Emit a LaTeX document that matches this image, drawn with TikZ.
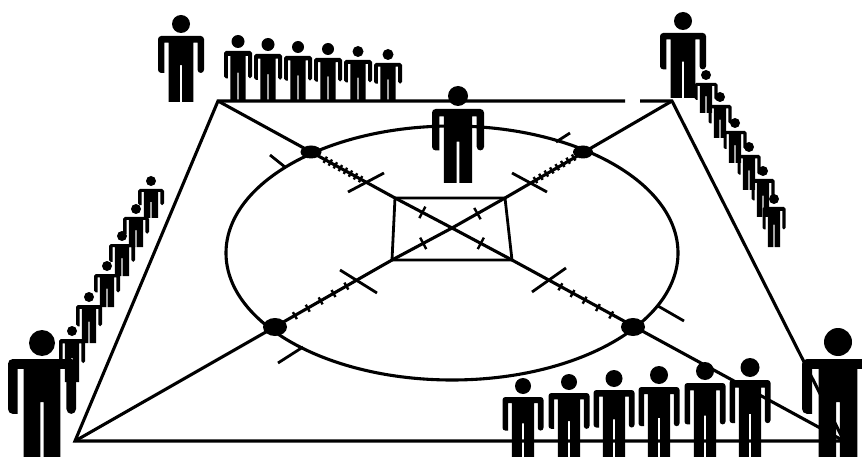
\documentclass[tikz,border=0pt]{standalone}
\usetikzlibrary{calc,shapes.geometric}
\tikzset{
  court/.style={line width=3.1pt,black},
  crossbar/.style={line width=2.8pt,black},
  hatchmark/.style={line width=2.4pt,black},
  spot/.style={ellipse,fill=black,inner sep=0pt},
}
\newcommand{\person}[5]{
  \pgfmathsetmacro{\shoulder}{#2+2*#5+3}
  \pgfmathsetmacro{\bodylen}{#3-\shoulder}
  \pgfmathsetmacro{\bend}{0.14*#4}
  \fill (#1,#2+#5) circle[radius=#5];
  \begin{scope}[shift={(#1,\shoulder)},xscale=#4,yscale=\bodylen]
    \fill[rounded corners=\bend pt] (-1,0.3)--(-1,0)--(1,0)--(1,0.56)--(0.72,0.56)
      [sharp corners]--(0.72,0.1)--(0.54,0.1)--(0.54,1)--(0.05,1)--(0.05,0.44)
      --(-0.05,0.44)--(-0.05,1)--(-0.54,1)--(-0.54,0.1)--(-0.72,0.1)--(-0.72,0.56)
      [rounded corners=\bend pt]--(-1,0.56)--cycle;
  \end{scope}
}
\newcommand{\hatchrun}[4]{
  \foreach \pos in {#4}
    \draw[hatchmark] ($(#1)!\pos!(#2)!#3!90:(#2)$)--($(#1)!\pos!(#2)!#3!-90:(#2)$);
}
\begin{document}
\begin{tikzpicture}[x=1pt,y=-1pt]
  \useasboundingbox (0,0) rectangle (862,457);
  \clip (0,0) rectangle (862,457);
  \coordinate (tl) at (218,101);
  \coordinate (tr) at (672,101);
  \coordinate (br) at (844,441);
  \coordinate (bl) at (75,441);
  \coordinate (gapl) at (625,101);
  \coordinate (gapr) at (640,101);
  \coordinate (intl) at (395,198);
  \coordinate (intr) at (505,198);
  \coordinate (inbr) at (512,260);
  \coordinate (inbl) at (392,260);
  \coordinate (mid) at (452,228);
  \draw[court] (gapl)--(tl)--(bl)--(br)--(tr)--(gapr);
  \draw[court] (452,253) ellipse[x radius=226,y radius=127];
  \draw[court] (tl)--(intl)--(mid)--(inbr)--(br);
  \draw[court] (bl)--(inbl)--(mid)--(intr)--(tr);
  \draw[crossbar] (intl)--(intr)--(inbr)--(inbl)--cycle;
  \node[spot,minimum width=21pt,minimum height=13pt] (sptl) at (311,152) {};
  \node[spot,minimum width=20pt,minimum height=13pt] (sptr) at (583,152) {};
  \node[spot,minimum width=24pt,minimum height=18pt] (spbl) at (275,327) {};
  \node[spot,minimum width=24pt,minimum height=18pt] (spbr) at (633,327) {};

  \foreach \n/\xa/\ya/\xb/\yb in {a/270/155/285/167,b/556/142/570/133,c/303/347/278/363,
      d/658/306/684/321,e/348/192/384/173,f/512/173/547/192,g/340/270/377/293,h/566/268/532/292}{
    \coordinate (tick\n a) at (\xa,\ya);
    \coordinate (tick\n b) at (\xb,\yb);
    \draw[crossbar] (tick\n a)--(tick\n b);
  }

  \hatchrun{sptl}{intl}{3.5pt}{0.17,0.23,0.29,0.35,0.41,0.47,0.53,0.59}
  \hatchrun{sptr}{intr}{3.5pt}{0.12,0.19,0.26,0.33,0.40,0.47,0.54,0.61}
  \hatchrun{spbl}{inbl}{4pt}{0.17,0.28,0.39,0.50,0.61}
  \hatchrun{spbr}{inbr}{4pt}{0.18,0.29,0.40,0.50,0.60}
  \hatchrun{intl}{mid}{6.5pt}{0.48}
  \hatchrun{intr}{mid}{6.5pt}{0.52}
  \hatchrun{inbl}{mid}{6.5pt}{0.52}
  \hatchrun{inbr}{mid}{6.5pt}{0.52}

  \person{181}{15}{102}{23}{9}
  \foreach \x/\hd/\hr in {238/35/6.5,268/38/6.5,298/41/6,328/43/6,358/46/5.5,388/49/5.5}{
    \person{\x}{\hd}{100}{14}{\hr}
  }
  \person{458}{86}{183}{26}{10}
  \person{683}{12}{98}{23}{9}
  \foreach \x/\hd/\feet in {706/70/113,720/92/138,735/118/163,749/142/190,763/166/217,774/194/247}{
    \person{\x}{\hd}{\feet}{11.5}{5}
  }
  \foreach \x/\hd/\feet in {151/176/218,136/204/247,122/231/276,107/261/307,89/292/343,72/326/382}{
    \person{\x}{\hd}{\feet}{13}{5}
  }
  \foreach \x/\hd/\hr in {523/378/8,569/374/8,614/370/8.5,659/366/9,705/362/9,750/358/9.5}{
    \person{\x}{\hd}{457}{20.5}{\hr}
  }
  \person{42}{330}{457}{34}{13}
  \person{838}{328}{457}{36}{14}
\end{tikzpicture}
\end{document}
